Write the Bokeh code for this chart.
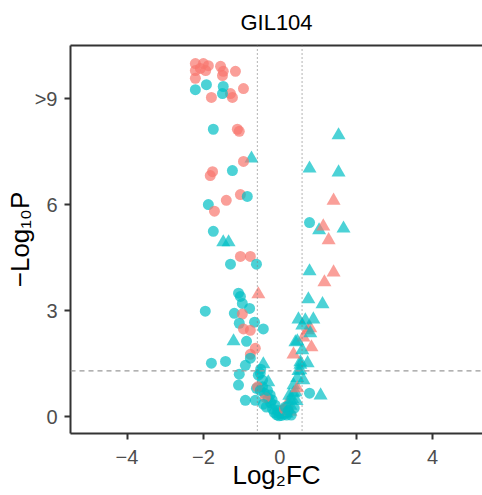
from bokeh.plotting import figure
from bokeh.models import Range1d, Span, LinearAxis, FixedTicker, ColumnDataSource
from bokeh.embed import file_html
from bokeh.resources import INLINE

# ---- data ----
log2fc = [
    # V-shaped core
    -0.56, -0.45, -0.61, -0.40, -0.30, -0.24, -0.35, -0.19, -0.14, -0.08, -0.02, 0.05, 0.02, 0.12,
    -0.25, -0.12, -0.05, 0.18, 0.22, -0.20, 0.10, -0.45, -0.50,
    -0.58, -0.38, 0.20, 0.28, 0.12,
    0.28, 0.33, 0.41, 0.36, 0.46, 0.49, 0.54, 0.22, 0.30, 0.38, 0.44, 0.18, 0.15, 0.25,
    # left side
    -1.74, -1.11, -1.06, -0.74, -0.95, -1.76, -1.82, -1.24, -1.03, -1.40, -0.85, -1.87, -1.71,
    -1.74, -1.48, -1.34, -1.03, -0.77, -1.29, -0.61, -0.56, -1.08, -1.03, -0.98, -0.79, -1.95,
    -1.19, -0.98, -0.66, -1.06, -0.43, -0.95, -0.77, -1.21, -0.87, -0.64, -0.77, -1.79, -1.42,
    -0.77, -0.90, -1.06, -1.08, -0.90, -0.64, -0.43, -0.51, -0.30, -0.43, -0.51, -0.32,
    # right side
    0.36, 0.28, 0.46, 0.78, 1.07, 0.62, 0.54, 0.73, 0.54, 0.36, 0.41, 0.62, 0.46, 0.83, 0.59,
    0.73, 0.80, 0.59, 0.80, 0.49, 0.67, 0.88, 0.75, 1.12, 0.78, 1.41, 1.17, 1.28, 1.03, 1.14,
    0.78, 1.67, 1.41, 0.78, 1.54, 1.54,
    # capped top cluster
    -2.21, -2.00, -1.87, -2.08, -2.21, -2.21, -1.55, -1.48, -1.50, -1.16, -0.95, -1.79, -1.29,
    -1.24, -1.94, -2.21, -1.92, -1.48, -1.50,
]
neglog10p = [
    1.18, 1.04, 0.81, 0.67, 0.53, 0.40, 0.28, 0.22, 0.12, 0.06, 0.03, 0.04, 0.10, 0.08,
    0.62, 0.33, 0.18, 0.05, 0.14, 0.48, 0.20, 0.85, 1.35,
    0.85, 0.55, 0.38, 0.15, 0.22,
    0.32, 0.50, 0.70, 0.90, 1.10, 1.30, 1.48, 0.18, 0.05, 0.25, 0.45, 0.10, 0.28, 0.60,
    8.14, 8.14, 8.08, 7.31, 7.23, 6.94, 6.83, 6.97, 6.29, 6.13, 6.24, 6.01, 5.82,
    5.25, 4.94, 4.94, 4.54, 4.54, 4.32, 4.32, 3.47, 3.50, 3.41, 3.21, 3.07, 2.99,
    2.93, 2.91, 2.68, 2.65, 2.49, 2.49, 2.45, 2.14, 2.14, 1.94, 1.77, 1.52, 1.57,
    1.66, 1.46, 1.21, 0.90, 0.47, 0.47, 1.49, 1.24, 0.98, 0.36, 0.75, 0.75,
    0.67, 0.47, 0.81, 0.67, 0.61, 1.04, 1.32, 1.52, 1.55, 1.77, 2.11, 2.25, 2.14, 1.97, 1.89,
    2.45, 2.51, 2.59, 2.37, 2.76, 2.73, 2.76, 3.33, 3.19, 4.12, 4.09, 3.81, 5.00, 5.28, 5.39,
    5.50, 5.33, 6.12, 7.03, 6.92, 7.97,
    10.00, 10.00, 9.94, 9.86, 9.80, 9.58, 9.92, 9.78, 9.66, 9.78, 9.29, 9.04, 9.15,
    9.04, 9.80, 9.26, 9.40, 9.35, 9.15,
]
colour_group = [
    "C", "C", "C", "C", "C", "C", "C", "C", "C", "C", "C", "C", "C", "C",
    "C", "C", "C", "C", "C", "C", "C", "C", "C",
    "S", "S", "S", "S", "S",
    "C", "C", "C", "C", "C", "C", "C", "C", "C", "C", "C", "C", "C", "C",
    "C", "S", "S", "C", "S", "S", "S", "C", "S", "S", "C", "C", "S",
    "C", "C", "C", "S", "S", "C", "C", "S", "C", "C", "C", "C", "C",
    "C", "S", "C", "C", "C", "S", "S", "C", "C", "S", "S", "C", "C",
    "C", "C", "C", "C", "C", "C", "C", "C", "C", "C", "C", "C",
    "C", "C", "S", "C", "C", "C", "C", "C", "C", "S", "C", "S", "C", "S", "C",
    "S", "S", "C", "C", "C", "C", "C", "C", "C", "C", "S", "S", "S", "C", "S",
    "C", "C", "S", "C", "C", "C",
    "S", "S", "S", "S", "S", "S", "S", "S", "S", "S", "S", "S", "S",
    "S", "S", "C", "C", "C", "C",
]
shape_group = [
    "o", "o", "o", "o", "o", "o", "o", "o", "o", "o", "o", "o", "o", "o",
    "o", "o", "o", "o", "o", "o", "o", "o", "o",
    "o", "o", "t", "t", "o",
    "t", "t", "t", "t", "t", "t", "t", "o", "o", "o", "t", "t", "o", "t",
    "o", "o", "o", "t", "o", "o", "o", "o", "o", "o", "o", "o", "o",
    "o", "t", "t", "o", "o", "o", "o", "t", "o", "o", "o", "o", "o",
    "o", "o", "o", "o", "o", "o", "o", "t", "o", "o", "o", "o", "o",
    "o", "o", "o", "o", "o", "o", "t", "o", "t", "o", "o", "o",
    "t", "t", "t", "o", "t", "t", "t", "t", "t", "t", "t", "t", "t", "t", "t",
    "t", "t", "t", "t", "t", "t", "t", "t", "t", "t", "t", "t", "t", "t", "t",
    "o", "t", "t", "t", "t", "t",
    "o", "o", "o", "o", "o", "o", "o", "o", "o", "o", "o", "o", "o",
    "o", "o", "o", "o", "o", "o",
]
x_ticks = [-4, -2, 0, 2, 4]
y_ticks = [0, 3, 6, 9]
y_tick_labels = {9: ">9"}
fc_cutoff = 0.585
p_cutoff = 1.301
title_text = "GIL104"
x_title = "Log\u2082FC"
y_title = "\u2212Log\u2081\u2080P"

# ---- styling maps ----
colour_map = {"S": "#F8766D", "C": "#00BFC4"}
marker_map = {"o": "circle", "t": "triangle"}
size_map = {"o": 11, "t": 14}

src = ColumnDataSource(dict(
    x=log2fc, y=neglog10p,
    col=[colour_map[c] for c in colour_group],
    mk=[marker_map[s] for s in shape_group],
    sz=[size_map[s] for s in shape_group],
))

FONT = "Liberation Sans"
p = figure(width=482, height=495, output_backend="svg", toolbar_location=None,
           x_range=Range1d(-5.48, 5.31), y_range=Range1d(-0.47, 10.51),
           min_border_left=70, min_border_right=0, min_border_top=45, min_border_bottom=62)
p.outline_line_color = None
p.xgrid.visible = False
p.ygrid.visible = False
p.background_fill_color = "white"

p.title.text = title_text
p.title.align = "center"
p.title.vertical_align = "top"
p.title.text_font = FONT
p.title.text_font_size = "22px"
p.title.text_font_style = "normal"
p.title.text_color = "black"
p.title.standoff = 17

for sp in [Span(location=-fc_cutoff, dimension="height"), Span(location=fc_cutoff, dimension="height")]:
    sp.line_color = "#808080"
    sp.line_dash = "1 3"
    sp.line_width = 1.2
    p.add_layout(sp)
hs = Span(location=p_cutoff, dimension="width", line_color="#999999", line_dash="5 4", line_width=1.2)
p.add_layout(hs)

p.scatter(x="x", y="y", marker="mk", size="sz", fill_color="col", line_color=None,
          fill_alpha=0.7, source=src)

minus = "\u2212"
xa = p.xaxis[0]
xa.ticker = FixedTicker(ticks=x_ticks)
xa.major_label_overrides = {t: (minus + str(-t) if t < 0 else str(t)) for t in x_ticks}
xa.axis_label = x_title
ya = p.yaxis[0]
ya.ticker = FixedTicker(ticks=y_ticks)
ya.major_label_overrides = {t: y_tick_labels.get(t, str(t)) for t in y_ticks}
ya.axis_label = y_title

for ax in [xa, ya]:
    ax.axis_line_color = "#333333"
    ax.axis_line_width = 2
    ax.major_tick_line_color = "#333333"
    ax.major_tick_line_width = 2
    ax.major_tick_in = 0
    ax.major_tick_out = 6
    ax.minor_tick_line_color = None
    ax.major_label_text_font = FONT
    ax.major_label_text_font_size = "20px"
    ax.major_label_text_color = "#4D4D4D"
    ax.axis_label_text_font = FONT
    ax.axis_label_text_font_size = "26px"
    ax.axis_label_text_font_style = "normal"
    ax.axis_label_text_color = "black"
xa.major_label_standoff = 10
xa.axis_label_standoff = -7
xa.axis_label_text_baseline = "alphabetic"
ya.major_label_standoff = 7
ya.axis_label_standoff = -3

top = LinearAxis(ticker=FixedTicker(ticks=[]), axis_line_color="#333333", axis_line_width=2,
                 major_tick_line_color=None, minor_tick_line_color=None,
                 major_label_text_font_size="0px", major_label_standoff=0)
p.add_layout(top, "above")

open("out.html", "w").write(file_html(p, INLINE))
